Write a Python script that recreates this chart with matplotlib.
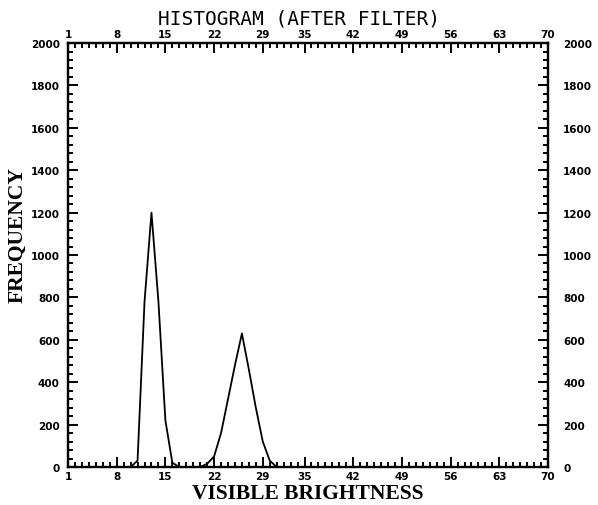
import matplotlib

matplotlib.use("Agg")

import matplotlib.pyplot as plt
from matplotlib.ticker import MultipleLocator, FixedLocator

# histogram after filter: brightness bin -> frequency
BRIGHTNESS = [1, 5, 9, 10, 11, 12, 13, 14, 15, 16, 17, 18, 19, 20, 21, 22,
              23, 24, 25, 26, 27, 28, 29, 30, 31, 40, 50, 60, 70]
FREQUENCY = [0, 0, 0, 0, 30, 780, 1200, 780, 220, 20, 0, 0, 0, 0, 15, 50,
             160, 320, 480, 630, 460, 280, 120, 30, 0, 0, 0, 0, 0]

X_TICKS = [1, 8, 15, 22, 29, 35, 42, 49, 56, 63, 70]
Y_TICKS = [0, 200, 400, 600, 800, 1000, 1200, 1400, 1600, 1800, 2000]

fig = plt.figure(figsize=(5.98, 5.06), dpi=100)
ax = fig.add_axes([0.1137, 0.0751, 0.8027, 0.8379])

ax.plot(BRIGHTNESS, FREQUENCY, color="black", linewidth=1.3)

ax.set_xlim(1, 70)
ax.set_ylim(0, 2000)
ax.xaxis.set_major_locator(FixedLocator(X_TICKS))
ax.xaxis.set_minor_locator(MultipleLocator(1))
ax.yaxis.set_major_locator(FixedLocator(Y_TICKS))
ax.yaxis.set_minor_locator(MultipleLocator(40))

# right-hand labels on a twin axis so they can sit further out
ax2 = ax.twinx()
ax2.set_ylim(0, 2000)
ax2.yaxis.set_major_locator(FixedLocator(Y_TICKS))
ax2.tick_params(axis="y", length=0, labelsize=7.5, pad=11)
for lab in ax2.get_yticklabels():
    lab.set_fontweight("bold")

ax.tick_params(which="both", direction="in", top=True, right=True,
               labeltop=True, labelright=False, width=1.4, color="black")
ax.tick_params(which="major", length=7, labelsize=7.5, pad=3)
ax.tick_params(which="minor", length=3.5)
ax.tick_params(axis="y", which="major", pad=6)

for t in ax.yaxis.get_major_ticks() + ax.xaxis.get_major_ticks():
    t.label1.set_fontweight("bold")
    t.label2.set_fontweight("bold")

for a in (ax, ax2):
    for spine in a.spines.values():
        spine.set_linewidth(1.6)

ax.set_xlabel("VISIBLE BRIGHTNESS", family="Liberation Serif", fontweight="bold",
              fontsize=15.5, labelpad=1)
ax.set_ylabel("FREQUENCY", family="Liberation Serif", fontweight="bold",
              fontsize=15.5)
ax.yaxis.set_label_coords(-0.085, 0.55)
fig.text(0.5, 0.962, "HISTOGRAM (AFTER FILTER)", family="DejaVu Sans Mono",
         fontsize=14, ha="center", va="center")

fig.savefig("out.png", dpi=100, facecolor="white")
